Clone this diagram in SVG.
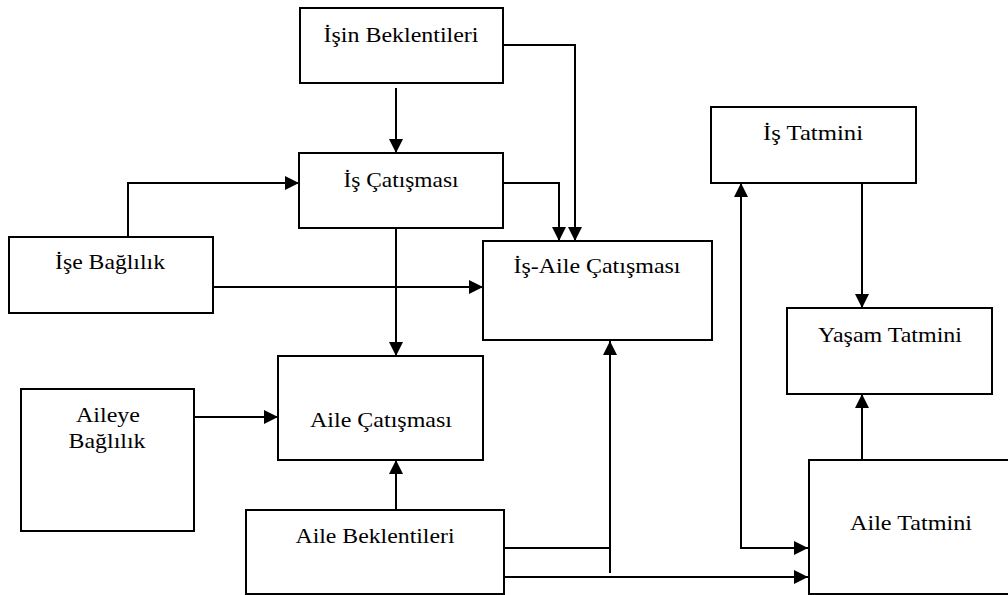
<svg xmlns="http://www.w3.org/2000/svg" width="1008" height="595" viewBox="0 0 1008 595">
  <style>
    .box { fill: #fff; stroke: #000; stroke-width: 2; }
    .lbl { font-family: "Liberation Serif", "Times New Roman", serif; font-size: 21px; fill: #000; text-anchor: middle; }
    .wire { fill: none; stroke: #000; stroke-width: 2; }
  </style>
  <defs>
    <marker id="arrow" markerUnits="userSpaceOnUse" markerWidth="16" markerHeight="16" refX="14" refY="8" orient="auto-start-reverse">
      <path d="M0,1 L14,8 L0,15 z" fill="#000"/>
    </marker>
  </defs>

  <rect width="1008" height="595" fill="#fff"/>

  <g id="connectors">
    <path class="wire" d="M396,88 V153" marker-end="url(#arrow)"/>
    <path class="wire" d="M503,45 H575 V241" marker-end="url(#arrow)"/>
    <path class="wire" d="M503,183 H559 V241" marker-end="url(#arrow)"/>
    <path class="wire" d="M128,237 V183 H299" marker-end="url(#arrow)"/>
    <path class="wire" d="M213,287 H483" marker-end="url(#arrow)"/>
    <path class="wire" d="M396,228 V356" marker-end="url(#arrow)"/>
    <path class="wire" d="M194,417 H278" marker-end="url(#arrow)"/>
    <path class="wire" d="M396,510 V460" marker-end="url(#arrow)"/>
    <path class="wire" d="M504,548 H610"/>
    <path class="wire" d="M610,573 V341" marker-end="url(#arrow)"/>
    <path class="wire" d="M504,577 H808" marker-end="url(#arrow)"/>
    <path class="wire" d="M741,183 V548 H808" marker-start="url(#arrow)" marker-end="url(#arrow)"/>
    <path class="wire" d="M862,183 V308" marker-end="url(#arrow)"/>
    <path class="wire" d="M862,460 V394" marker-end="url(#arrow)"/>
  </g>

  <g id="isin-beklentileri">
    <rect class="box" x="300" y="8" width="203" height="75"/>
    <text class="lbl" x="401" y="42" textLength="155" lengthAdjust="spacingAndGlyphs">İşin Beklentileri</text>
  </g>
  <g id="is-catismasi">
    <rect class="box" x="299" y="153" width="204" height="75"/>
    <text class="lbl" x="401" y="187" textLength="115" lengthAdjust="spacingAndGlyphs">İş Çatışması</text>
  </g>
  <g id="ise-baglilik">
    <rect class="box" x="9" y="237" width="204" height="76"/>
    <text class="lbl" x="110" y="269" textLength="110" lengthAdjust="spacingAndGlyphs">İşe Bağlılık</text>
  </g>
  <g id="is-aile-catismasi">
    <rect class="box" x="483" y="241" width="229" height="99"/>
    <text class="lbl" x="597" y="273" textLength="167" lengthAdjust="spacingAndGlyphs">İş-Aile Çatışması</text>
  </g>
  <g id="aileye-baglilik">
    <rect class="box" x="21" y="389" width="173" height="142"/>
    <text class="lbl" x="108" y="422" textLength="64" lengthAdjust="spacingAndGlyphs">Aileye</text>
    <text class="lbl" x="107" y="448" textLength="77" lengthAdjust="spacingAndGlyphs">Bağlılık</text>
  </g>
  <g id="aile-catismasi">
    <rect class="box" x="278" y="356" width="205" height="104"/>
    <text class="lbl" x="381" y="427" textLength="142" lengthAdjust="spacingAndGlyphs">Aile Çatışması</text>
  </g>
  <g id="aile-beklentileri">
    <rect class="box" x="246" y="510" width="258" height="84"/>
    <text class="lbl" x="375" y="543" textLength="159" lengthAdjust="spacingAndGlyphs">Aile Beklentileri</text>
  </g>
  <g id="is-tatmini">
    <rect class="box" x="711" y="107" width="205" height="76"/>
    <text class="lbl" x="813" y="140" textLength="100" lengthAdjust="spacingAndGlyphs">İş Tatmini</text>
  </g>
  <g id="yasam-tatmini">
    <rect class="box" x="787" y="308" width="205" height="86"/>
    <text class="lbl" x="890" y="342" textLength="144" lengthAdjust="spacingAndGlyphs">Yaşam Tatmini</text>
  </g>
  <g id="aile-tatmini">
    <rect class="box" x="809" y="460" width="203" height="134"/>
    <text class="lbl" x="911" y="530" textLength="122" lengthAdjust="spacingAndGlyphs">Aile Tatmini</text>
  </g>
</svg>
